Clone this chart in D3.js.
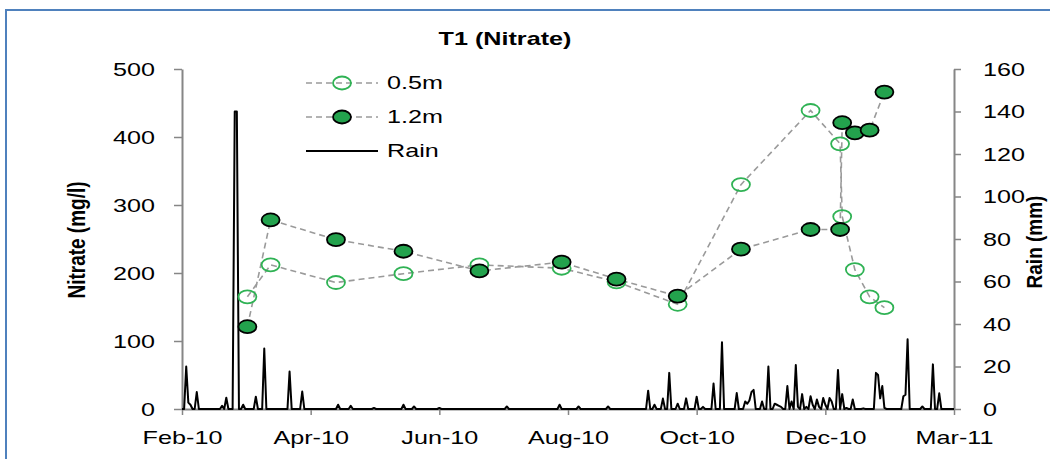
<!DOCTYPE html>
<html>
<head>
<meta charset="utf-8">
<script src="https://cdn.jsdelivr.net/npm/d3@7"></script>
<style>
  html, body { margin: 0; padding: 0; background: #fff; }
  svg { display: block; font-family: "Liberation Sans", Arial, sans-serif; }
</style>
</head>
<body>
<svg id="chart" width="1050" height="459"></svg>
<script>
// ---------------- data ----------------
const sampleDates = ["2010-03-31","2010-04-11","2010-05-12","2010-06-13","2010-07-19","2010-08-27",
  "2010-09-22","2010-10-21","2010-11-20","2010-12-23","2011-01-06","2011-01-07","2011-01-13","2011-01-20","2011-01-27"];
const nitrate05 = [165, 212, 186, 199, 212, 207, 187, 154, 330, 439, 390, 283, 205, 165, 149];
const nitrate12 = [121, 278, 249, 232, 203, 216, 191, 166, 235, 264, 264, 421, 406, 410, 466];

const rainDates = ["2010-03-02","2010-03-03","2010-03-04","2010-03-07","2010-03-19","2010-03-21","2010-03-25","2010-03-26",
  "2010-03-29","2010-04-04","2010-04-08","2010-04-20","2010-04-26","2010-05-13","2010-05-19","2010-05-30","2010-06-13",
  "2010-06-18","2010-06-30","2010-08-01","2010-08-26","2010-09-04","2010-09-18","2010-10-07","2010-10-10","2010-10-14",
  "2010-10-17","2010-10-21","2010-10-25","2010-10-30","2010-11-02","2010-11-07","2010-11-11","2010-11-18","2010-11-22",
  "2010-11-23","2010-11-24","2010-11-25","2010-11-26","2010-11-30","2010-12-03","2010-12-06","2010-12-07","2010-12-08",
  "2010-12-09","2010-12-12","2010-12-14","2010-12-16","2010-12-17","2010-12-19","2010-12-21","2010-12-23","2010-12-24",
  "2010-12-26","2010-12-27","2010-12-29","2010-12-30","2011-01-01","2011-01-02","2011-01-05","2011-01-07","2011-01-09",
  "2011-01-12","2011-01-17","2011-01-23","2011-01-24","2011-01-25","2011-01-26","2011-01-27","2011-02-05","2011-02-06",
  "2011-02-07","2011-02-14","2011-02-19","2011-02-22"];
const rainValues = [20, 3, 2, 8, 1.5, 5.3, 140, 140,
  2, 5.8, 28.5, 17.6, 8.2, 2, 1.5, 0.5, 2,
  1.2, 0.5, 1.2, 2, 1.2, 1.2, 8.6, 2, 4.9,
  17, 2.5, 5, 5.8, 1, 12, 31.4, 7.5, 3.5,
  2.5, 4, 8, 9, 3.5, 20, 2.5, 2, 1.5,
  1, 10.8, 3.5, 20.7, 1, 7, 1, 6, 2,
  4.5, 1, 5.2, 2, 5.2, 3.5, 18.4, 7, 0.5,
  4.5, 0.3, 17, 16, 5, 10.8, 0.5, 6, 6.7,
  32.8, 1.2, 21, 7.4];

const axisStart = "2010-02-28", axisEnd = "2011-03-01";
const xTickDates = ["2010-02-28","2010-04-30","2010-06-30","2010-08-30","2010-10-30","2010-12-30","2011-03-01"];
const xTickLabels = ["Feb-10","Apr-10","Jun-10","Aug-10","Oct-10","Dec-10","Mar-11"];
const leftTicks = [0, 100, 200, 300, 400, 500];
const rightTicks = [0, 20, 40, 60, 80, 100, 120, 140, 160];
const seriesNames = ["0.5m", "1.2m", "Rain"];

// ---------------- setup ----------------
const parse = d3.utcParse("%Y-%m-%d");
const SX = 1.4; // horizontal text stretch seen in the reference
const svg = d3.select("#chart");
const AX = "#868686";

const x = d3.scaleUtc().domain([parse(axisStart), parse(axisEnd)]).range([182, 954]);
const yL = d3.scaleLinear().domain([0, 500]).range([409, 69]);
const yR = d3.scaleLinear().domain([0, 160]).range([409, 69]);

// outer border
svg.append("rect").attr("x", 6).attr("y", 10).attr("width", 1200).attr("height", 600)
  .attr("fill", "none").attr("stroke", "#4f81bd").attr("stroke-width", 2);

function styleAxis(g) {
  g.select(".domain").attr("stroke", AX).attr("stroke-width", 2);
  g.selectAll(".tick line").attr("stroke", AX).attr("stroke-width", 1.5);
  g.selectAll(".tick text").attr("fill", "#000").attr("font-size", 18);
}

// left axis
const gL = svg.append("g").attr("transform", "translate(182,0)")
  .call(d3.axisLeft(yL).tickValues(leftTicks).tickSize(8).tickSizeOuter(0));
styleAxis(gL);
gL.selectAll(".tick text").attr("x", null).attr("dy", "0.35em")
  .attr("transform", `translate(-27,0) scale(${SX},1)`);

// right axis
const gR = svg.append("g").attr("transform", "translate(954,0)")
  .call(d3.axisRight(yR).tickValues(rightTicks).tickSize(7).tickSizeOuter(0));
styleAxis(gR);
gR.selectAll(".tick text").attr("x", null).attr("dy", "0.35em")
  .attr("transform", `translate(29,0) scale(${SX},1)`);

// bottom axis
const xTicks = xTickDates.map(parse);
const gB = svg.append("g").attr("transform", "translate(0,409)")
  .call(d3.axisBottom(x).tickValues(xTicks).tickSize(6).tickSizeOuter(0)
    .tickFormat((d, i) => xTickLabels[i]));
styleAxis(gB);
gB.selectAll(".tick text").attr("y", null).attr("dy", "0.35em")
  .attr("transform", `translate(0,29) scale(${SX},1)`);

// rain series (daily, zero on days without rain)
const rainMap = new Map(rainDates.map((d, i) => [d, rainValues[i]]));
const fmt = d3.utcFormat("%Y-%m-%d");
const rainDaily = d3.utcDay.range(parse(axisStart), d3.utcDay.offset(parse(axisEnd), 1))
  .map(d => ({ date: d, mm: rainMap.get(fmt(d)) || 0 }));
svg.append("path").datum(rainDaily)
  .attr("fill", "none").attr("stroke", "#000").attr("stroke-width", 2).attr("stroke-linejoin", "round")
  .attr("d", d3.line().x(d => x(d.date)).y(d => yR(d.mm)));

// nitrate series
const s05 = sampleDates.map((d, i) => ({ date: parse(d), v: nitrate05[i] }));
const s12 = sampleDates.map((d, i) => ({ date: parse(d), v: nitrate12[i] }));
const nLine = d3.line().x(d => x(d.date)).y(d => yL(d.v));
[s05, s12].forEach(s => {
  svg.append("path").datum(s).attr("fill", "none").attr("stroke", "#9a9a9a")
    .attr("stroke-width", 1.6).attr("stroke-dasharray", "6,4").attr("d", nLine);
});
const RX = 9, RY = 6.5;
function openMarker(sel) {
  sel.attr("rx", RX).attr("ry", RY).attr("fill", "none").attr("stroke", "#2fb254").attr("stroke-width", 1.8);
}
function filledMarker(sel) {
  sel.attr("rx", RX).attr("ry", RY).attr("fill", "#23a24d").attr("stroke", "#000").attr("stroke-width", 1.8);
}
svg.append("g").selectAll("ellipse").data(s05).join("ellipse")
  .attr("cx", d => x(d.date)).attr("cy", d => yL(d.v)).call(openMarker);
svg.append("g").selectAll("ellipse").data(s12).join("ellipse")
  .attr("cx", d => x(d.date)).attr("cy", d => yL(d.v)).call(filledMarker);

// legend
const legY = [83, 117, 151];
const lg = svg.append("g");
seriesNames.forEach((name, i) => {
  const yy = legY[i];
  const ln = lg.append("line").attr("x1", 306).attr("x2", 378).attr("y1", yy).attr("y2", yy);
  if (i < 2) {
    ln.attr("stroke", "#9a9a9a").attr("stroke-width", 1.6).attr("stroke-dasharray", "6,4");
    lg.append("ellipse").attr("cx", 342).attr("cy", yy).call(i === 0 ? openMarker : filledMarker);
  } else {
    ln.attr("stroke", "#000").attr("stroke-width", 2);
  }
  lg.append("text").attr("transform", `translate(387,${yy}) scale(${SX},1)`)
    .attr("dy", "0.35em").attr("font-size", 18).text(name);
});

// titles
svg.append("text").attr("transform", `translate(505,45) scale(${SX},1)`)
  .attr("text-anchor", "middle").attr("font-size", 18).attr("font-weight", "bold").text("T1 (Nitrate)");
svg.append("text").attr("transform", `translate(76,240) scale(1.3,1) rotate(-90)`)
  .attr("text-anchor", "middle").attr("dy", "0.35em").attr("font-size", 19).attr("font-weight", "bold")
  .text("Nitrate (mg/l)");
svg.append("text").attr("transform", `translate(1034,242) scale(1.2,1) rotate(-90)`)
  .attr("text-anchor", "middle").attr("dy", "0.35em").attr("font-size", 19).attr("font-weight", "bold")
  .text("Rain (mm)");
</script>
</body>
</html>
